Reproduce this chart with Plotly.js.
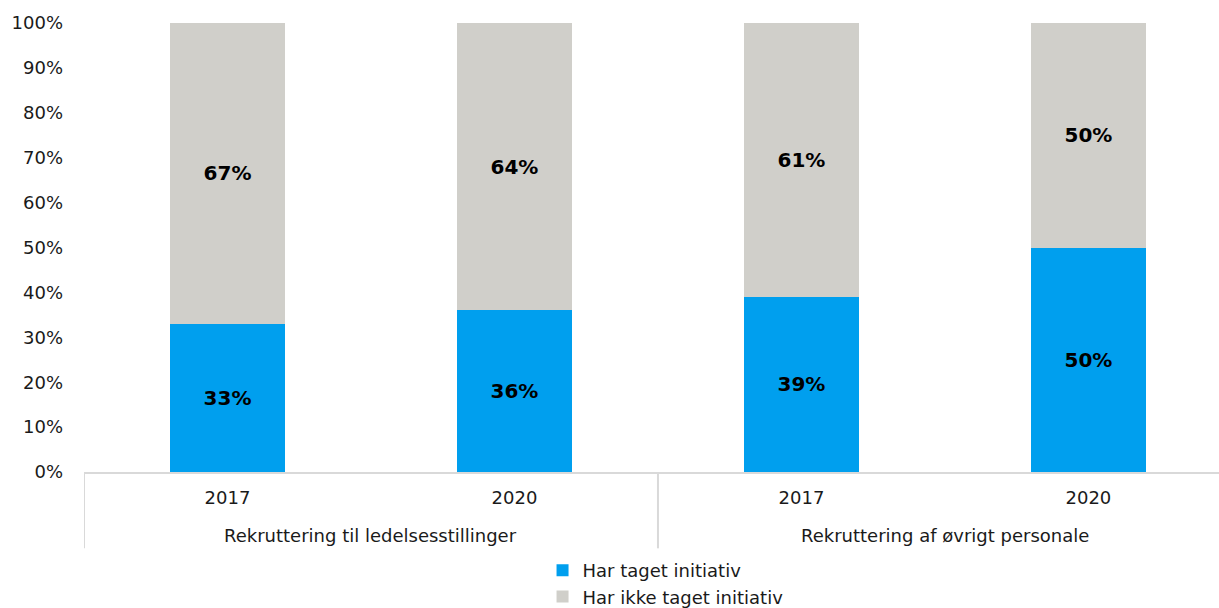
<!DOCTYPE html>
<html>
<head>
<meta charset="utf-8">
<script src="https://cdn.plot.ly/plotly-3.0.1.min.js"></script>
<style>html,body{margin:0;padding:0;background:#fff;}#chart{width:1219px;height:608px;}</style>
</head>
<body>
<div id="chart"></div>
<script>
const groupNames = ["Rekruttering til ledelsesstillinger", "Rekruttering af øvrigt personale"];
const groups = ["Rekruttering til ledelsesstillinger", "Rekruttering til ledelsesstillinger", "Rekruttering af øvrigt personale", "Rekruttering af øvrigt personale"];
const years = ["2017", "2020", "2017", "2020"];
const harTaget = [33, 36, 39, 50];
const harIkkeTaget = [67, 64, 61, 50];
const seriesNames = ["Har taget initiativ", "Har ikke taget initiativ"];
const yTickVals = [0, 10, 20, 30, 40, 50, 60, 70, 80, 90, 100];
const yTickText = yTickVals.map(v => v + "%");

const FONT = "Verdana, 'DejaVu Sans', sans-serif";
const TXT = "#1a1a1a";
const labelFont = {family: FONT, size: 20, color: "#000000"};

// unique category keys, shown as years
const cats = groups.map((g, i) => g + " | " + years[i]);

const traces = [
  {
    type: "bar", name: seriesNames[0], x: cats, y: harTaget,
    marker: {color: "#009FEE"},
    text: harTaget.map(v => "<b>" + v + "%</b>"), texttemplate: "%{text}",
    textposition: "inside", insidetextanchor: "middle", textangle: 0,
    textfont: labelFont, hoverinfo: "none"
  },
  {
    type: "bar", name: seriesNames[1], x: cats, y: harIkkeTaget,
    marker: {color: "#D0CFCA"},
    text: harIkkeTaget.map(v => "<b>" + v + "%</b>"), texttemplate: "%{text}",
    textposition: "inside", insidetextanchor: "middle", textangle: 0,
    textfont: labelFont, hoverinfo: "none"
  }
];

// group labels and dividers
const annotations = groupNames.map((g, k) => {
  const idx = groups.map((x, i) => x === g ? i : -1).filter(i => i >= 0);
  const mid = (idx[0] + idx[idx.length - 1]) / 2;
  return {
    xref: "x", yref: "paper", x: mid, y: -0.141, yanchor: "middle",
    text: g, showarrow: false, font: {family: FONT, size: 18, color: TXT}
  };
});
const bounds = [-0.5];
groups.forEach((g, i) => { if (i === groups.length - 1 || groups[i + 1] !== g) bounds.push(i + 0.5); });
const shapes = bounds.map(b => ({
  type: "line", xref: "x", yref: "paper", x0: b, x1: b, y0: 0, y1: -0.17,
  line: {color: "#D9D9D9", width: 2}, layer: "below"
}));

const layout = {
  width: 1219, height: 608,
  margin: {l: 84, r: 0, t: 23, b: 136},
  paper_bgcolor: "#ffffff", plot_bgcolor: "#ffffff",
  barmode: "stack", bargap: 0.6,
  font: {family: FONT, size: 18, color: TXT},
  showlegend: true,
  legend: {
    orientation: "v", x: 0.404, xanchor: "left",
    yref: "container", y: 0.0921, yanchor: "top",
    font: {family: FONT, size: 18, color: TXT},
    traceorder: "normal", itemwidth: 30, tracegroupgap: 0
  },
  annotations: annotations,
  shapes: shapes,
  xaxis: {
    type: "category", automargin: false,
    range: [-0.5, 3.455],
    tickvals: cats, ticktext: years,
    showline: true, linecolor: "#D9D9D9", linewidth: 2,
    ticks: "", showgrid: false, zeroline: false, ticklabelstandoff: 8,
    tickfont: {family: FONT, size: 18, color: TXT}
  },
  yaxis: {
    range: [0, 100], tickvals: yTickVals, ticktext: yTickText, automargin: false,
    showgrid: false, zeroline: false, showline: false,
    ticks: "", ticklabelstandoff: 20,
    tickfont: {family: FONT, size: 18, color: TXT}
  }
};

Plotly.newPlot("chart", traces, layout, {staticPlot: true, displayModeBar: false});
</script>
</body>
</html>
